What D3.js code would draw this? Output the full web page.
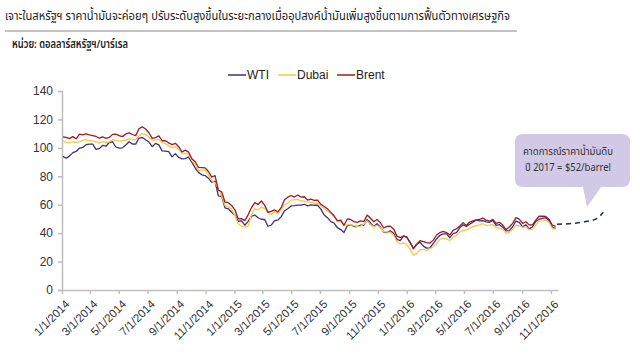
<!DOCTYPE html>
<html><head><meta charset="utf-8">
<script src="https://cdn.jsdelivr.net/npm/d3@7"></script>
<style>
body{margin:0;background:#fff;}
svg{font-family:Tahoma,"Noto Sans Thai","Noto Sans","Liberation Sans",sans-serif;}
</style></head>
<body><svg id="c" width="640" height="360"></svg>
<script>
const title = "เจาะในสหรัฐฯ ราคาน้ำมันจะค่อยๆ ปรับระดับสูงขึ้นในระยะกลางเมื่ออุปสงค์น้ำมันเพิ่มสูงขึ้นตามการฟื้นตัวทางเศรษฐกิจ";
const unitLabel = "หน่วย: ดอลลาร์สหรัฐฯ/บาร์เรล";
const seriesNames = ["WTI","Dubai","Brent"];
const calloutLines = ["คาดการณ์ราคาน้ำมันดิบ","ปี 2017 = $52/barrel"];
const yTicks = [0,20,40,60,80,100,120,140];
const firstWeek = "2014-01-03"; // weekly observations (Fridays)

const wti = [
 93.96,92.72,94.37,96.64,97.49, 99.88,100.30,102.20,102.59, 102.58,98.89,99.46,101.67,
 101.14,103.74,104.30,100.60, 99.76,99.99,102.02,104.35,102.71, 102.66,106.91,107.26,105.74,
 104.06,100.83,103.13,102.09, 97.88,97.65,97.35,93.65,95.96, 93.29,92.27,92.41,93.54,
 89.74,85.82,82.75,81.01,80.54, 78.65,75.82,76.51,66.15, 65.84,57.81,57.13,54.73,
 52.69,48.36,48.69,45.59,48.24, 51.69,52.78,50.81,49.76, 49.61,44.84,45.72,48.87,
 49.14,51.64,55.74,57.15, 59.15,59.39,59.69,59.72,60.30, 59.13,59.96,59.61,59.63,
 56.93,52.74,50.89,48.14,47.12, 43.87,42.50,40.45,45.22, 46.05,44.63,44.68,45.70,
 45.54,49.63,47.26,44.60,46.59, 44.29,40.74,40.39,41.71, 39.97,35.62,34.73,38.10,
 37.04,33.16,29.42,32.19,33.62, 30.89,29.44,29.64,32.78, 35.92,38.50,39.44,39.46,
 36.79,39.72,40.36,43.73,45.92, 44.66,46.21,47.75,49.33, 48.62,48.88,47.98,47.64,
 48.99,45.41,45.95,44.19,41.60, 41.80,44.49,48.52,47.64, 44.44,45.88,43.03,44.48,48.24,
 49.81,50.35,50.85,48.70, 44.07,43.41];
const dubai = [
 104.8,103.9,103.5,104.3,103.6, 104.4,105.2,105.8,105.0, 104.9,104.2,103.4,104.3,
 103.6,104.2,105.6,105.3, 104.7,105.0,105.6,106.3,105.8, 105.6,108.4,110.0,109.3,
 107.6,105.4,105.5,106.0, 103.6,103.0,101.2,100.4,100.8, 98.9,96.2,96.0,95.4,
 91.0,88.1,84.0,84.4,84.3, 81.0,76.9,75.5,71.5, 66.5,59.5,58.6,56.9,
 52.4,46.6,44.8,44.2,44.8, 53.0,57.2,56.3,58.2, 57.4,54.2,53.2,55.0,
 53.5,56.3,59.8,61.0, 63.4,63.5,63.8,62.6,62.5, 61.8,61.7,61.2,61.0,
 59.3,57.5,55.6,53.8,51.5, 48.6,48.1,45.6,45.8, 46.1,45.2,44.8,44.9,
 46.3,48.6,45.9,44.4,45.5, 43.8,41.0,40.7,40.6, 38.6,33.9,32.4,33.2,
 32.0,28.6,24.5,25.6,28.2, 28.6,27.8,29.2,30.4, 32.9,35.6,36.4,36.0,
 34.8,37.0,38.3,40.6,42.0, 42.2,43.4,44.6,45.2, 45.8,46.8,45.4,45.6,
 46.0,44.0,43.6,42.8,39.8, 40.6,42.8,45.6,45.2, 44.0,44.6,42.4,42.6,45.6,
 48.6,48.8,49.4,47.6, 43.4,42.6];
const brent = [
 107.8,107.3,106.5,107.9,106.4, 109.6,109.1,109.9,109.1, 108.6,108.0,106.9,107.8,
 106.7,107.3,109.5,109.6, 108.6,107.9,109.8,110.5,109.4, 108.6,113.4,114.8,113.3,
 110.6,106.7,107.2,108.4, 105.0,105.0,103.5,102.3,103.2, 100.8,97.1,98.4,97.0,
 92.3,90.2,86.2,86.1,85.9, 83.4,79.4,80.4,70.2, 69.1,61.9,61.4,59.5,
 56.4,50.1,50.2,48.8,52.9, 57.8,61.5,60.2,62.6, 59.7,54.7,55.3,56.4,
 54.9,57.9,63.5,65.3, 66.5,65.4,66.8,65.4,65.6, 63.3,63.9,63.0,63.3,
 60.3,58.7,57.1,54.6,52.2, 48.6,49.2,45.5,50.0, 49.6,48.1,47.5,48.6,
 48.1,52.7,50.5,48.0,49.6, 47.4,43.6,44.7,44.9, 43.0,37.9,36.9,37.9,
 37.3,33.6,28.9,32.2,34.7, 34.1,33.4,33.0,35.1, 38.7,40.4,41.2,40.4,
 38.7,41.9,43.1,45.1,47.4, 45.4,47.8,48.7,49.3, 49.6,50.5,49.2,48.4,
 49.7,46.8,47.6,45.7,42.5, 44.3,46.9,50.9,49.9, 46.8,48.0,45.8,45.9,49.2,
 51.9,51.9,51.8,49.7, 45.6,44.8];
const forecastDates = ["2016-11-14","2016-12-18","2017-01-17","2017-02-07","2017-02-20"];
const forecastValues = [46.2,46.9,48.3,50.4,54.7];

const colors = {WTI:"#3f2f7c", Dubai:"#f6c84a", Brent:"#9c1c24"};
const parse = d3.timeParse("%Y-%m-%d");
const svg = d3.select("#c");

const x = d3.scaleTime().domain([new Date(2014,0,1), new Date(2016,10,16)]).range([62,558]);
const y = d3.scaleLinear().domain([0,140]).range([290,91]);

// title
svg.append("text").attr("x",5).attr("y",20).attr("font-size",13).attr("fill","#222")
  .attr("textLength",505).attr("lengthAdjust","spacingAndGlyphs").text(title);
svg.append("line").attr("x1",5).attr("x2",517).attr("y1",31).attr("y2",31).attr("stroke","#888").attr("stroke-width",1);
svg.append("text").attr("x",12).attr("y",48).attr("font-size",11.5).attr("font-weight",600).attr("fill","#222")
  .attr("textLength",116).attr("lengthAdjust","spacingAndGlyphs").text(unitLabel);

// axes
const axisColor = "#bfbfbf";
const yAxis = svg.append("g").attr("transform","translate(62,0)")
  .call(d3.axisLeft(y).tickValues(yTicks).tickSize(4).tickPadding(5));
const xTickVals = d3.timeMonth.every(2).range(new Date(2014,0,1), new Date(2016,10,2));
const fmt = d => `${d.getMonth()+1}/${d.getDate()}/${d.getFullYear()}`;
const xAxis = svg.append("g").attr("transform","translate(0,290)")
  .call(d3.axisBottom(x).tickValues(xTickVals).tickFormat(fmt).tickSize(4).tickSizeOuter(0));
[yAxis,xAxis].forEach(g=>{
  g.selectAll("path,line").attr("stroke",axisColor).attr("stroke-width",1.5);
  g.selectAll("text").attr("fill","#333").attr("font-family",'Tahoma,"Liberation Sans",sans-serif');
});
yAxis.selectAll("text").attr("font-size",12);
xAxis.selectAll("text").attr("font-size",11.5).attr("text-anchor","end")
  .attr("transform","translate(5,12) rotate(-45)").attr("dy","0.35em").attr("y",0).attr("x",0);

// series
const dates = wti.map((_,i)=>d3.timeDay.offset(parse(firstWeek), 7*i));
const line = d3.line().x(d=>x(d[0])).y(d=>y(d[1]));
const data = {WTI:wti, Dubai:dubai, Brent:brent};
seriesNames.forEach(n=>{
  svg.append("path").datum(data[n].map((v,i)=>[dates[i],v]))
    .attr("fill","none").attr("stroke",colors[n]).attr("stroke-width",1.3)
    .attr("stroke-linejoin","round").attr("d",line);
});
// forecast
svg.append("path").datum(forecastDates.map((d,i)=>[parse(d),forecastValues[i]]))
  .attr("fill","none").attr("stroke","#1f2a4d").attr("stroke-width",1.5).attr("stroke-dasharray","5,4")
  .attr("d",d3.line().x(d=>x(d[0])).y(d=>y(d[1])).curve(d3.curveMonotoneX));

// legend
const legX = [228,278,337];
seriesNames.forEach((n,i)=>{
  svg.append("line").attr("x1",legX[i]).attr("x2",legX[i]+18).attr("y1",75).attr("y2",75)
    .attr("stroke",colors[n]).attr("stroke-width",1.5);
  svg.append("text").attr("x",legX[i]+19).attr("y",79).attr("font-size",12).attr("fill","#222")
    .attr("font-family",'Tahoma,"Liberation Sans",sans-serif').text(n);
});

// callout
svg.append("path").attr("fill","#d2c9e6")
  .attr("d","M523,134 H622 Q630,134 630,142 V179 Q630,187 622,187 H601 L587,207 L583,187 H523 Q515,187 515,179 V142 Q515,134 523,134 Z");
const calloutWidths = [90,86];
calloutLines.forEach((t,i)=>{
  svg.append("text").attr("x",568).attr("y",155+i*16).attr("text-anchor","middle")
    .attr("font-size",10.5).attr("fill","#333")
    .attr("textLength",calloutWidths[i]).attr("lengthAdjust","spacingAndGlyphs").text(t);
});
</script></body></html>
